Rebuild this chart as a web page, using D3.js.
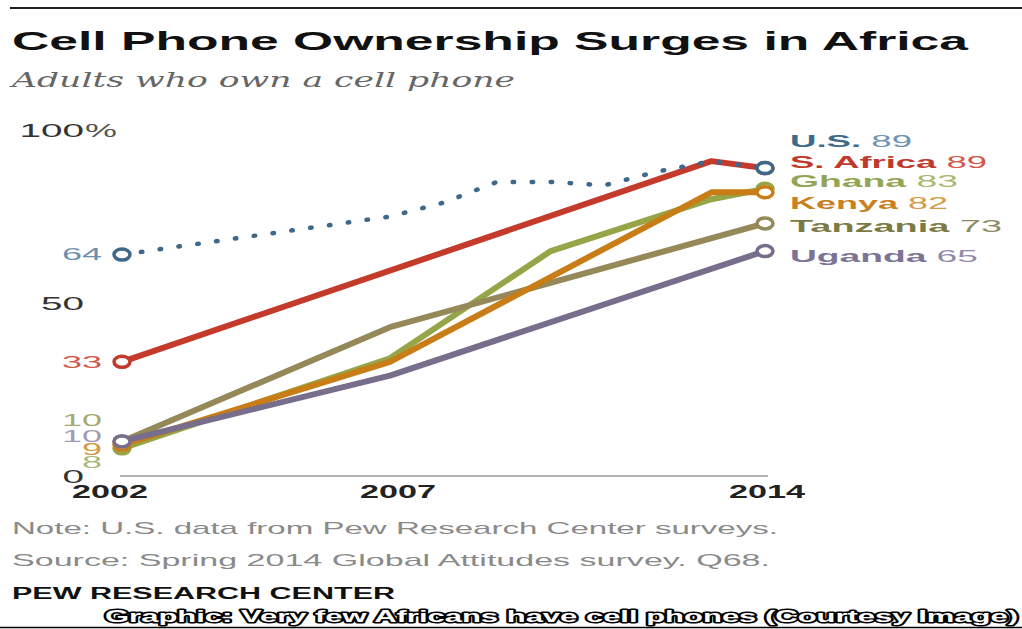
<!DOCTYPE html>
<html>
<head>
<meta charset="utf-8">
<script src="https://cdn.jsdelivr.net/npm/d3@7"></script>
<style>
  body { margin: 0; background: #fff; }
  svg { display: block; }
</style>
</head>
<body>
<svg id="chart" width="1022" height="629"></svg>
<script>
// values
var usYears = [2002, 2007, 2008, 2009, 2010, 2011, 2012, 2013, 2014];
var usValues = [64, 75, 79, 85, 85, 84, 88, 91, 89];
var saYears = [2002, 2013, 2014];
var saValues = [33, 91, 89];
var ghanaYears = [2002, 2007, 2010, 2013, 2014];
var ghanaValues = [8, 34, 65, 80, 83];
var kenyaYears = [2002, 2007, 2013, 2014];
var kenyaValues = [9, 33, 82, 82];
var tanzaniaYears = [2002, 2007, 2014];
var tanzaniaValues = [10, 43, 73];
var ugandaYears = [2002, 2007, 2014];
var ugandaValues = [10, 29, 65];

var xTicks = [2002, 2007, 2014];
var yTicks = [0, 50, 100];
var yTickLabels = ["0", "50", "100"];

function pts(yrs, vals) {
    return yrs.map(function(yr, i) { return {year: yr, value: vals[i]}; });
}

// drawing order = bottom to top
var series = [
    {name: "Ghana",     data: pts(ghanaYears, ghanaValues),       line: "#95a547", nameC: "#93a552", valC: "#a9b86e", leftC: "#a9b87a", lbl: -2,  left: 20},
    {name: "Tanzania",  data: pts(tanzaniaYears, tanzaniaValues), line: "#958859", nameC: "#7b7a45", valC: "#8e8a66", leftC: "#a7aa72", lbl: 9,   left: -15},
    {name: "Kenya",     data: pts(kenyaYears, kenyaValues),       line: "#c97d16", nameC: "#c9801f", valC: "#d39a4a", leftC: "#d39a4a", lbl: 17,  left: 10},
    {name: "Uganda",    data: pts(ugandaYears, ugandaValues),     line: "#786d8a", nameC: "#7d7394", valC: "#9389a8", leftC: "#a39bb5", lbl: 11,  left: 1},
    {name: "S. Africa", data: pts(saYears, saValues),             line: "#c53b2b", nameC: "#c0392b", valC: "#d4584a", leftC: "#d4584a", lbl: 0,   left: 6},
    {name: "U.S.",      data: pts(usYears, usValues),             line: "#3e6789", nameC: "#3f6a8a", valC: "#6d93b3", leftC: "#6d8fae", lbl: -21, left: 5, dotted: true}
];

var svg = d3.select("#chart");
var sans = "'Liberation Sans', Arial, sans-serif";

var x = d3.scaleLinear().domain([2002, 2014]).range([122, 765]);
var y = d3.scaleLinear().domain([0, 100]).range([476, 130]);

// text stretched to the widths seen in the picture
function label(g, str, x0, x1, base, size, color, weight) {
    return g.append("text")
        .attr("x", x0).attr("y", base)
        .attr("font-family", sans)
        .attr("font-size", size)
        .attr("font-weight", weight || "normal")
        .attr("fill", color)
        .attr("textLength", x1 - x0)
        .attr("lengthAdjust", "spacingAndGlyphs")
        .text(str);
}

// header
svg.append("line").attr("x1", 10).attr("x2", 1022).attr("y1", 8).attr("y2", 8)
    .attr("stroke", "#222").attr("stroke-width", 2);
label(svg, "Cell Phone Ownership Surges in Africa", 12, 968, 50, 25, "#111", "bold");
label(svg, "Adults who own a cell phone", 12, 515, 87, 20, "#666")
    .attr("font-family", "'DejaVu Serif', 'Liberation Serif', serif")
    .attr("font-style", "italic");

// y ticks
yTicks.forEach(function(v, i) {
    var s = yTickLabels[i];
    var w = s.length * 21.5;
    label(svg, s, 84 - w, 84, y(v) + 7, 18, "#333");
    if (v === 100) {
        label(svg, "%", 85, 117, y(v) + 7, 18, "#555");
    }
});

// x axis
svg.append("line")
    .attr("x1", 120).attr("x2", 768)
    .attr("y1", y(0)).attr("y2", y(0))
    .attr("stroke", "#999").attr("stroke-width", 1.5);

var xShift = {2002: -12, 2007: 8, 2014: 2};
xTicks.forEach(function(yr) {
    var cx = x(yr) + xShift[yr];
    label(svg, String(yr), cx - 38, cx + 38, 498, 18, "#222", "bold");
});

var line = d3.line()
    .x(function(d) { return x(d.year); })
    .y(function(d) { return y(d.value); });

series.forEach(function(s) {
    var g = svg.append("g");
    var p = g.append("path")
        .datum(s.data)
        .attr("d", line)
        .attr("fill", "none")
        .attr("stroke", s.line)
        .attr("stroke-linejoin", "round");
    if (s.dotted) {
        p.attr("stroke-width", 4.5)
         .attr("stroke-linecap", "round")
         .attr("stroke-dasharray", "1.5 17.5");
    } else {
        p.attr("stroke-width", 6);
    }

    var ends = [s.data[0], s.data[s.data.length - 1]];
    g.selectAll("ellipse").data(ends).enter().append("ellipse")
        .attr("cx", function(d) { return x(d.year); })
        .attr("cy", function(d) { return y(d.value); })
        .attr("rx", 8).attr("ry", 5.5)
        .attr("fill", "#fff")
        .attr("stroke", s.line)
        .attr("stroke-width", 3.5);
});

// left value labels (they crowd each other near zero, as in the original)
series.forEach(function(s) {
    var v = s.data[0].value;
    var str = String(v);
    var w = str.length * 20;
    label(svg, str, 102 - w, 102, y(v) + s.left, 16, s.leftC);
});

// right labels: bold name + value
var rightEnds = {"U.S.": 912, "S. Africa": 987, "Ghana": 958, "Kenya": 948, "Tanzania": 1002, "Uganda": 978};
series.forEach(function(s) {
    var last = s.data[s.data.length - 1];
    var t = svg.append("text")
        .attr("x", 790).attr("y", y(last.value) + s.lbl)
        .attr("font-family", sans)
        .attr("font-size", 17)
        .attr("textLength", rightEnds[s.name] - 790)
        .attr("lengthAdjust", "spacingAndGlyphs");
    t.append("tspan").attr("font-weight", "bold").attr("fill", s.nameC).text(s.name + " ");
    t.append("tspan").attr("fill", s.valC).text(last.value);
});

// footer
label(svg, "Note: U.S. data from Pew Research Center surveys.", 12, 778, 534, 17, "#8a8a8a");
label(svg, "Source: Spring 2014 Global Attitudes survey. Q68.", 12, 770, 566, 17, "#8a8a8a");
label(svg, "PEW RESEARCH CENTER", 12, 395, 599, 16, "#111", "bold");
label(svg, "Graphic: Very few Africans have cell phones (Courtesy Image)", 105, 1018, 622, 17, "#fff", "bold")
    .attr("stroke", "#000").attr("stroke-width", 3)
    .attr("paint-order", "stroke").attr("stroke-linejoin", "round");
svg.append("line").attr("x1", 0).attr("x2", 1022).attr("y1", 627.5).attr("y2", 627.5)
    .attr("stroke", "#000").attr("stroke-width", 1.5);
</script>
</body>
</html>
